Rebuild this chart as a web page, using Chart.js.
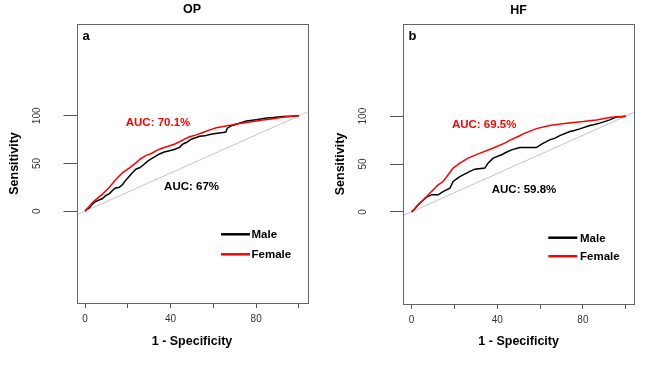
<!DOCTYPE html>
<html lang="en">
<head>
    <meta charset="UTF-8">
    <title>ROC curves by sex: OP and HF</title>
    <style>
        body {
            margin: 0;
            background: #fff;
        }

        #wrap {
            position: relative;
            width: 669px;
            height: 366px;
        }

        .panel {
            position: absolute;
            top: 0;
        }

        #panel-a { left: 0; }
        #panel-b { left: 334px; }
    </style>
</head>
<body>
    <div id="wrap">
        <div class="panel" id="panel-a"><canvas id="chart-op" width="334" height="366"></canvas></div>
        <div class="panel" id="panel-b"><canvas id="chart-hf" width="335" height="366"></canvas></div>
    </div>

    <script src="https://cdn.jsdelivr.net/npm/chart.js"></script>
    <script>
        // axis ticks (1 - specificity and sensitivity, in %)
        const xTicks = [0, 20, 40, 60, 80, 100];
        const xTickLabels = [0, 40, 80];
        const yTicks = [0, 50, 100];
        const chanceLine = [-10, 110];

        // panel a: OP
        const opMaleFpr = [0, 1, 2, 3.6, 4.5, 6.7, 8, 9.5, 11.4, 12.5, 14, 16, 17.6, 18.5, 20.8, 22, 23.9, 25.5, 27.8, 29, 30.9, 32.5, 34.8, 37, 39.5, 42, 44.2, 45.5, 47.3, 49.7, 53.6, 56, 58.3, 61, 64.5, 65.8, 66.5, 68.4, 71, 75.5, 80, 84.9, 88, 92.6, 96, 100];
        const opMaleTpr = [0, 2.5, 3.5, 7.7, 9.5, 12, 13, 16, 18.5, 21, 24, 25, 28, 31, 37, 40, 44.3, 45.5, 49.5, 52, 54.8, 57, 60, 62, 63.4, 65, 66.9, 70, 72, 75.5, 78.5, 79, 80.5, 81.5, 82.5, 83, 87, 89.5, 91.5, 94.5, 96, 97.8, 98.2, 99.2, 99.5, 100];
        const opFemaleFpr = [0, 1.5, 3.6, 6, 8.3, 11.4, 14.5, 17.6, 20.8, 23.9, 26, 28.6, 31, 33.3, 36, 39.5, 42, 44.2, 46.5, 48.9, 52, 55.1, 58, 61.4, 64, 67.7, 70.5, 73.9, 77, 80.2, 83, 86.4, 90, 94.2, 97, 100];
        const opFemaleTpr = [0, 4, 9.4, 14, 18.2, 25, 33.5, 40.5, 45.5, 51, 55, 58.5, 60.5, 63.5, 66, 68.7, 70.5, 72.8, 75.5, 78, 80, 82.5, 85, 87.5, 88.5, 90, 91.5, 92.5, 93.5, 94.5, 95.5, 96.5, 97.8, 99, 99.5, 100];
        const opAuc = ['AUC: 67%', 'AUC: 70.1%'];

        // panel b: HF
        const hfMaleFpr = [0, 1, 2.3, 4.7, 7, 9.3, 12.4, 14.7, 17.9, 19.4, 22.5, 25.7, 27, 29.5, 34.2, 35.7, 38.1, 42, 44, 46.7, 50.5, 58.3, 60.7, 64.5, 67, 69.2, 73.9, 76, 78.5, 83.2, 85, 87.9, 92.5, 95.7, 98, 100];
        const hfMaleTpr = [0, 2, 5.5, 10.8, 15.4, 17.8, 17.8, 21.2, 24.7, 31.7, 36.9, 40.4, 42, 44.6, 45.7, 50.9, 56.1, 59.6, 62, 64.8, 67.2, 67.2, 70.7, 75.2, 77, 79.7, 83.9, 85, 86.7, 90.2, 91, 92.7, 96.1, 99, 99.5, 100];
        const hfFemaleFpr = [0, 1.5, 3.1, 6.2, 9.3, 12.4, 14.7, 17.1, 19.4, 22.5, 26.4, 31.1, 37.3, 43.5, 46, 50.5, 52.1, 58.3, 64.5, 72.3, 80.1, 86.3, 92.5, 96, 100];
        const hfFemaleTpr = [0, 3, 7.3, 14.3, 21.2, 28.2, 31.7, 38.7, 45.7, 50.9, 56.1, 60.6, 66, 71.8, 75, 79.5, 81.5, 87, 90.2, 92.7, 94.4, 96.1, 98.5, 99.5, 100];
        const hfAuc = ['AUC: 59.8%', 'AUC: 69.5%'];

        const FONT = "'Liberation Sans', Arial, Helvetica, sans-serif";

        function toPoints(xs, ys) {
            return xs.map((x, i) => ({ x: x, y: ys[i] }));
        }

        // draws the R style box, title, panel letter, AUC texts and legend
        const rocDecor = {
            id: 'rocDecor',
            afterDraw(chart, args, opts) {
                const { ctx, chartArea: a, scales } = chart;
                ctx.save();
                ctx.strokeStyle = '#666';
                ctx.lineWidth = 1;
                ctx.strokeRect(Math.round(a.left) + 0.5, Math.round(a.top) + 0.5,
                    Math.round(a.right - a.left), Math.round(a.bottom - a.top));

                ctx.fillStyle = '#000';
                ctx.textAlign = 'center';
                ctx.textBaseline = 'middle';
                ctx.font = `bold 12.5px ${FONT}`;
                ctx.fillText(opts.title, (a.left + a.right) / 2, a.top - opts.titleGap);

                ctx.font = `bold 13px ${FONT}`;
                ctx.fillText(opts.letter, a.left + 9.5, a.top + 12);

                // AUC labels, placed in data units like text() in R
                ctx.font = `bold 11.5px ${FONT}`;
                opts.auc.forEach((txt, i) => {
                    const pos = opts.aucPos[i];
                    ctx.fillStyle = opts.aucColors[i];
                    ctx.fillText(txt, scales.x.getPixelForValue(pos[0]), scales.y.getPixelForValue(pos[1]));
                });

                // legend
                const lg = opts.legend;
                ctx.textAlign = 'left';
                ctx.font = `bold 11.5px ${FONT}`;
                chart.data.datasets.filter(d => d.inLegend).sort((p, q) => p.legendOrder - q.legendOrder).forEach((d, i) => {
                    const y = a.top + lg.y + i * lg.step;
                    ctx.strokeStyle = d.borderColor;
                    ctx.lineWidth = 2.5;
                    ctx.beginPath();
                    ctx.moveTo(a.left + lg.x, y);
                    ctx.lineTo(a.left + lg.x + 29, y);
                    ctx.stroke();
                    ctx.fillStyle = '#000';
                    ctx.fillText(d.label, a.left + lg.textX, y + 1);
                });
                ctx.restore();
            }
        };

        function makeChart(canvasId, p) {
            return new Chart(document.getElementById(canvasId), {
                type: 'line',
                data: {
                    datasets: [
                        {
                            label: 'Female',
                            data: toPoints(p.femaleFpr, p.femaleTpr),
                            borderColor: '#ff0000',
                            borderWidth: 1.5,
                            pointRadius: 0,
                            tension: 0,
                            inLegend: true,
                            legendOrder: 1
                        },
                        {
                            label: 'Male',
                            data: toPoints(p.maleFpr, p.maleTpr),
                            borderColor: '#000000',
                            borderWidth: 1.5,
                            pointRadius: 0,
                            tension: 0,
                            inLegend: true,
                            legendOrder: 0
                        },
                        {
                            label: 'chance',
                            data: toPoints(chanceLine, chanceLine),
                            borderColor: '#c4c4c4',
                            borderWidth: 1,
                            pointRadius: 0
                        }
                    ]
                },
                options: {
                    responsive: false,
                    animation: false,
                    devicePixelRatio: 1,
                    layout: {
                        padding: { top: p.top, right: p.right, bottom: 0, left: 0 }
                    },
                    plugins: {
                        legend: { display: false },
                        tooltip: { enabled: false },
                        rocDecor: p.decor
                    },
                    scales: {
                        x: {
                            type: 'linear',
                            min: -4,
                            max: 104,
                            afterBuildTicks: s => { s.ticks = xTicks.map(v => ({ value: v })); },
                            afterFit: s => { s.height = p.xAxisHeight; },
                            ticks: {
                                autoSkip: false,
                                maxRotation: 0,
                                padding: 5,
                                color: '#333',
                                font: { family: FONT, size: 10 },
                                callback: v => xTickLabels.includes(v) ? String(v) : ''
                            },
                            grid: { drawOnChartArea: false, tickLength: 5, color: '#555' },
                            border: { display: false },
                            title: {
                                display: true,
                                text: '1 - Specificity',
                                color: '#000',
                                font: { family: FONT, size: 12.5, weight: 'bold', lineHeight: 1 },
                                padding: { top: 0, bottom: 18.5 }
                            }
                        },
                        y: {
                            type: 'linear',
                            min: -96.3,
                            max: 196.3,
                            afterBuildTicks: s => { s.ticks = yTicks.map(v => ({ value: v })); },
                            afterFit: s => { s.width = p.yAxisWidth; },
                            ticks: {
                                autoSkip: false,
                                minRotation: 90,
                                maxRotation: 90,
                                crossAlign: 'center',
                                padding: 18,
                                color: '#333',
                                font: { family: FONT, size: 10 }
                            },
                            grid: { drawOnChartArea: false, tickLength: 13, color: '#555' },
                            border: { display: false },
                            title: {
                                display: true,
                                text: 'Sensitivity',
                                color: '#000',
                                font: { family: FONT, size: 12.5, weight: 'bold', lineHeight: 1 },
                                padding: { top: p.yTitlePad, bottom: 0 }
                            }
                        }
                    }
                },
                plugins: [rocDecor]
            });
        }

        makeChart('chart-op', {
            maleFpr: opMaleFpr, maleTpr: opMaleTpr,
            femaleFpr: opFemaleFpr, femaleTpr: opFemaleTpr,
            top: 23, right: 26.5, xAxisHeight: 63, yAxisWidth: 76.5, yTitlePad: 8.5,
            decor: {
                title: 'OP', titleGap: 14.5, letter: 'a',
                auc: opAuc, aucPos: [[49.8, 25.6], [34.1, 93]], aucColors: ['#000', '#ff0000'],
                legend: { x: 144.5, textX: 175, y: 210.3, step: 20 }
            }
        });

        makeChart('chart-hf', {
            maleFpr: hfMaleFpr, maleTpr: hfMaleTpr,
            femaleFpr: hfFemaleFpr, femaleTpr: hfFemaleTpr,
            top: 24, right: 34.7, xAxisHeight: 62, yAxisWidth: 69, yTitlePad: 0,
            decor: {
                title: 'HF', titleGap: 13.2, letter: 'b',
                auc: hfAuc, aucPos: [[52.5, 23], [33.9, 90.6]], aucColors: ['#000', '#ff0000'],
                legend: { x: 145.3, textX: 177, y: 213.7, step: 18.5 }
            }
        });
    </script>
</body>
</html>
